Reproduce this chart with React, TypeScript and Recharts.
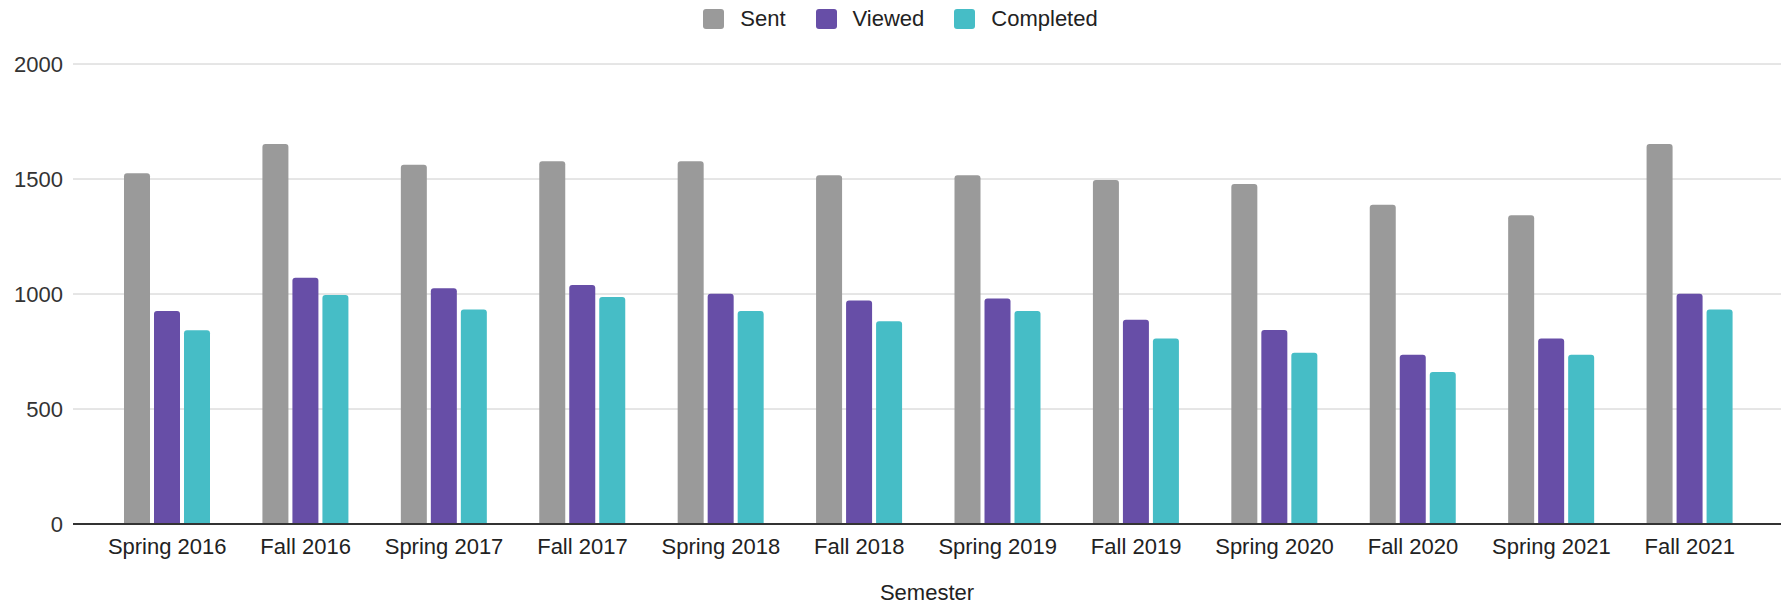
import { BarChart, Bar, XAxis, YAxis, CartesianGrid, Label } from "recharts";

const semesters = [
  "Spring 2016",
  "Fall 2016",
  "Spring 2017",
  "Fall 2017",
  "Spring 2018",
  "Fall 2018",
  "Spring 2019",
  "Fall 2019",
  "Spring 2020",
  "Fall 2020",
  "Spring 2021",
  "Fall 2021",
];
const sent = [1525, 1652, 1562, 1577, 1577, 1516, 1516, 1496, 1478, 1388, 1342, 1652];
const viewed = [926, 1071, 1025, 1039, 1001, 972, 980, 888, 843, 736, 806, 1001];
const completed = [842, 996, 933, 987, 926, 881, 926, 806, 745, 661, 736, 933];
const yTicks = [0, 500, 1000, 1500, 2000];

const SENT_COLOR = "#9a9a9a";
const VIEWED_COLOR = "#674ea7";
const COMPLETED_COLOR = "#46bdc6";
const FONT = "'Liberation Sans', Arial, sans-serif";

const data = semesters.map((s, i) => ({
  semester: s,
  Sent: sent[i],
  Viewed: viewed[i],
  Completed: completed[i],
}));

const legendItems = [
  { name: "Sent", color: SENT_COLOR },
  { name: "Viewed", color: VIEWED_COLOR },
  { name: "Completed", color: COMPLETED_COLOR },
];

// legend sits above the plot, outside recharts so it doesn't push the plot down
function ChartLegend() {
  return (
    <div
      style={{
        position: "absolute",
        top: 6,
        left: 6,
        width: 1789,
        display: "flex",
        justifyContent: "center",
        alignItems: "center",
        gap: 30,
        fontFamily: FONT,
        fontSize: 22,
        color: "#222",
      }}
    >
      {legendItems.map((item) => (
        <div key={item.name} style={{ display: "flex", alignItems: "center" }}>
          <span style={{ width: 21, height: 20, borderRadius: 3, background: item.color, marginRight: 16, display: "inline-block" }} />
          <span>{item.name}</span>
        </div>
      ))}
    </div>
  );
}

export default function App() {
  return (
    <div style={{ position: "absolute", left: 0, top: 0, width: 1789, height: 606, background: "#fff" }}>
      <ChartLegend />
      <BarChart
        width={1789}
        height={606}
        data={data}
        margin={{ top: 64, right: 8, left: 0, bottom: 0 }}
        barSize={26}
        barGap={4}
      >
        <CartesianGrid vertical={false} stroke="#cccccc" />
        <XAxis
          dataKey="semester"
          height={82}
          tickLine={false}
          tickSize={0}
          tickMargin={14}
          padding={{ left: 25, right: 22 }}
          axisLine={{ stroke: "#333", strokeWidth: 2 }}
          tick={{ fontSize: 22, fill: "#222", fontFamily: FONT }}
          interval={0}
        >
          <Label value="Semester" position="insideBottom" offset={6} style={{ fontSize: 22, fill: "#222", fontFamily: FONT }} />
        </XAxis>
        <YAxis
          width={73}
          domain={[0, 2000]}
          ticks={yTicks}
          axisLine={false}
          tickLine={false}
          tickSize={0}
          tickMargin={10}
          tick={{ fontSize: 22, fill: "#333", fontFamily: FONT }}
        />
        <Bar dataKey="Sent" fill={SENT_COLOR} radius={[3, 3, 0, 0]} isAnimationActive={false} />
        <Bar dataKey="Viewed" fill={VIEWED_COLOR} radius={[3, 3, 0, 0]} isAnimationActive={false} />
        <Bar dataKey="Completed" fill={COMPLETED_COLOR} radius={[3, 3, 0, 0]} isAnimationActive={false} />
      </BarChart>
    </div>
  );
}
